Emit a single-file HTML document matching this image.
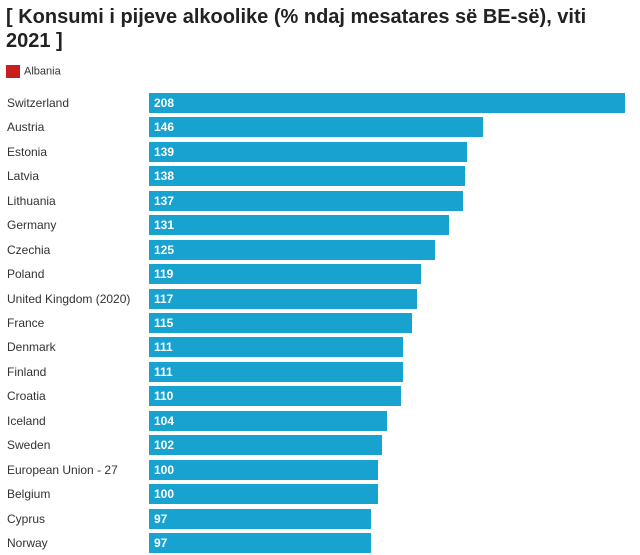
<!DOCTYPE html>
<html><head><meta charset="utf-8"><style>
body{margin:0;width:640px;height:555px;background:#fff;font-family:"Liberation Sans",Arial,sans-serif;position:relative;overflow:hidden}
h1{position:absolute;left:6px;top:5px;margin:0;font-size:20px;line-height:24px;font-weight:bold;color:#222;width:630px}
.lg{position:absolute;left:6px;top:65px;font-size:11px;color:#333}
.lg span{display:inline-block;width:14px;height:13px;background:#c81e1e;vertical-align:middle;margin-right:4px}
.row{position:absolute;left:0;height:20px;width:640px}
.lab{position:absolute;left:7px;top:3px;font-size:12px;color:#333}
.bar{position:absolute;left:149px;top:0;height:20px;background:#17a2cf}
.bar b{position:absolute;left:5px;top:3px;color:#fff;font-size:12px}
</style></head><body>
<h1>[ Konsumi i pijeve alkoolike (% ndaj mesatares së BE-së), viti 2021 ]</h1>
<div class="lg"><span></span>Albania</div>
<script>
var d=[["Switzerland",208],["Austria",146],["Estonia",139],["Latvia",138],["Lithuania",137],["Germany",131],["Czechia",125],["Poland",119],["United Kingdom (2020)",117],["France",115],["Denmark",111],["Finland",111],["Croatia",110],["Iceland",104],["Sweden",102],["European Union - 27",100],["Belgium",100],["Cyprus",97],["Norway",97]];
d.forEach(function(r,i){document.write('<div class="row" style="top:'+(93+i*24.44).toFixed(1)+'px"><div class="lab">'+r[0]+'</div><div class="bar" style="width:'+(r[1]*2.288).toFixed(1)+'px"><b>'+r[1]+'</b></div></div>')});
</script>
</body></html>
